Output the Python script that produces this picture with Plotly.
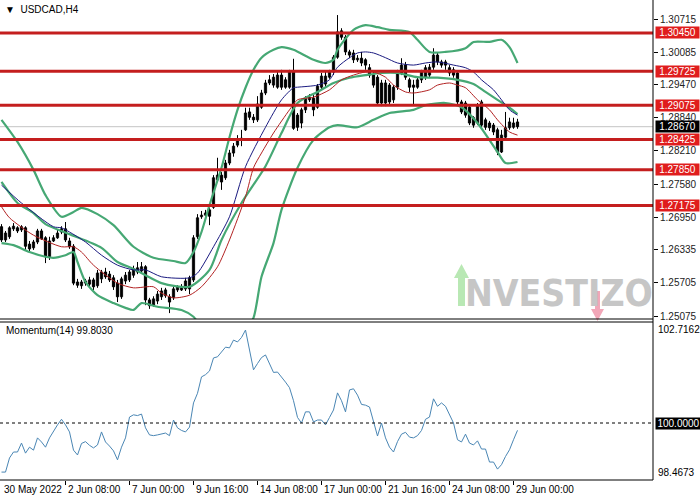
import plotly.graph_objects as go

# ---------------- data ----------------
bar_index = list(range(130))
open_ = [1.2677,1.2652,1.2658,1.2673,1.2675,1.2671,1.2675,1.2644,1.2637,1.2648,
         1.2669,1.2656,1.2620,1.2650,1.2656,1.2667,1.2673,1.2650,1.2640,1.2572,
         1.2565,1.2574,1.2568,1.2576,1.2565,1.2578,1.2591,1.2587,1.2580,1.2570,
         1.2544,1.2574,1.2576,1.2585,1.2591,1.2593,1.2601,1.2538,1.2528,1.2536,
         1.2544,1.2546,1.2544,1.2542,1.2557,1.2557,1.2559,1.2559,1.2576,1.2658,
         1.2696,1.2699,1.2709,1.2714,1.2766,1.2775,1.2770,1.2798,1.2817,1.2832,
         1.2842,1.2861,1.2895,1.2885,1.2880,1.2904,1.2931,1.2956,1.2946,1.2942,
         1.2965,1.2956,1.2942,1.2971,1.2889,1.2874,1.2899,1.2918,1.2921,1.2904,
         1.2942,1.2948,1.2961,1.2971,1.2999,1.3049,1.3037,1.3009,1.3007,1.2994,
         1.2997,1.2994,1.2979,1.2965,1.2961,1.2950,1.2912,1.2946,1.2918,1.2942,
         1.2969,1.2984,1.2956,1.2946,1.2942,1.2956,1.2961,1.2965,1.2980,1.3003,
         1.2990,1.2990,1.2979,1.2975,1.2969,1.2914,1.2912,1.2904,1.2884,1.2874,
         1.2914,1.2880,1.2874,1.2870,1.2861,1.2819,1.2847,1.2865,1.2866,1.2876]
close = [1.2652,1.2665,1.2675,1.2678,1.2669,1.2677,1.2640,1.2635,1.2648,1.2669,
         1.2654,1.2620,1.2650,1.2656,1.2665,1.2673,1.2652,1.2639,1.2570,1.2566,
         1.2572,1.2570,1.2576,1.2563,1.2589,1.2591,1.2582,1.2576,1.2563,1.2544,
         1.2578,1.2585,1.2591,1.2597,1.2599,1.2601,1.2538,1.2527,1.2540,1.2549,
         1.2555,1.2557,1.2534,1.2559,1.2563,1.2563,1.2574,1.2580,1.2656,1.2694,
         1.2699,1.2703,1.2697,1.2770,1.2775,1.2762,1.2798,1.2817,1.2830,1.2844,
         1.2845,1.2893,1.2885,1.2880,1.2910,1.2931,1.2950,1.2950,1.2961,1.2965,
         1.2942,1.2942,1.2971,1.2864,1.2866,1.2899,1.2921,1.2923,1.2899,1.2944,
         1.2963,1.2963,1.2971,1.2999,1.3047,1.3037,1.3009,1.3003,1.2994,1.2997,
         1.2988,1.2984,1.2965,1.2946,1.2912,1.2912,1.2950,1.2914,1.2942,1.2969,
         1.2984,1.2961,1.2942,1.2942,1.2956,1.2971,1.2979,1.2980,1.3003,1.2990,
         1.2984,1.2984,1.2969,1.2965,1.2914,1.2895,1.2889,1.2874,1.2870,1.2908,
         1.2870,1.2866,1.2865,1.2857,1.2819,1.2851,1.2865,1.2876,1.2874,1.2867]
high = [1.2682,1.2669,1.2678,1.2684,1.2678,1.2680,1.2678,1.2650,1.2652,1.2673,
        1.2673,1.2659,1.2658,1.2661,1.2671,1.2678,1.2686,1.2656,1.2644,1.2578,
        1.2576,1.2578,1.2582,1.2580,1.2595,1.2595,1.2599,1.2593,1.2585,1.2576,
        1.2582,1.2591,1.2595,1.2603,1.2610,1.2610,1.2604,1.2542,1.2545,1.2555,
        1.2561,1.2561,1.2549,1.2563,1.2566,1.2568,1.2580,1.2584,1.2661,1.2701,
        1.2707,1.2709,1.2713,1.2775,1.2808,1.2781,1.2804,1.2823,1.2836,1.2851,
        1.2861,1.2903,1.2903,1.2891,1.2925,1.2937,1.2956,1.2965,1.2967,1.2971,
        1.2975,1.2961,1.2975,1.2996,1.2893,1.2903,1.2925,1.2929,1.2927,1.2948,
        1.2969,1.2971,1.2975,1.3003,1.3079,1.3054,1.3041,1.3013,1.3013,1.3003,
        1.3009,1.2997,1.2986,1.2971,1.2965,1.2956,1.2956,1.2950,1.2946,1.2975,
        1.2997,1.2990,1.2960,1.2956,1.2963,1.2975,1.2984,1.2986,1.3016,1.3007,
        1.2994,1.2994,1.2984,1.2980,1.2973,1.2918,1.2916,1.2910,1.2887,1.2912,
        1.2918,1.2884,1.2878,1.2874,1.2865,1.2861,1.2895,1.2884,1.2884,1.2882]
low = [1.2648,1.2648,1.2654,1.2669,1.2665,1.2667,1.2631,1.2631,1.2633,1.2644,
       1.2652,1.2608,1.2614,1.2648,1.2654,1.2663,1.2648,1.2635,1.2566,1.2561,
       1.2559,1.2565,1.2561,1.2557,1.2561,1.2570,1.2578,1.2572,1.2557,1.2534,
       1.2540,1.2568,1.2572,1.2580,1.2587,1.2589,1.2528,1.2521,1.2525,1.2530,
       1.2538,1.2542,1.2513,1.2538,1.2553,1.2555,1.2555,1.2549,1.2572,1.2654,
       1.2692,1.2696,1.2680,1.2711,1.2762,1.2747,1.2766,1.2794,1.2810,1.2828,
       1.2830,1.2859,1.2880,1.2874,1.2876,1.2901,1.2927,1.2946,1.2941,1.2939,
       1.2937,1.2939,1.2939,1.2861,1.2859,1.2864,1.2893,1.2914,1.2887,1.2901,
       1.2937,1.2942,1.2958,1.2965,1.2996,1.3032,1.3003,1.2997,1.2988,1.2990,
       1.2982,1.2975,1.2960,1.2941,1.2908,1.2906,1.2906,1.2910,1.2912,1.2937,
       1.2965,1.2956,1.2933,1.2908,1.2939,1.2950,1.2956,1.2960,1.2975,1.2984,
       1.2979,1.2975,1.2963,1.2960,1.2910,1.2891,1.2884,1.2870,1.2865,1.2870,
       1.2865,1.2861,1.2859,1.2851,1.2813,1.2817,1.2844,1.2861,1.2863,1.2863]

bb_upper_idx = [0,4,8,11,15,18,20,24,28,33,38,43,46,48,50,52,55,57,59,61,63,65,68,70,73,78,81,83,84,88,91,94,97,102,104,107,111,116,118,122,125,127,129]
bb_upper = [1.2880,1.2838,1.2785,1.2737,1.2696,1.2705,1.2713,1.2701,1.2680,1.2639,
            1.2618,1.2612,1.2608,1.2629,1.2667,1.2718,1.2789,1.2847,1.2899,1.2941,
            1.2975,1.2998,1.3013,1.3018,1.3013,1.2994,1.2988,1.2994,1.3013,1.3051,
            1.3060,1.3056,1.3051,1.3047,1.3032,1.3009,1.3009,1.3016,1.3028,1.3028,
            1.3032,1.3018,1.2988]
bb_mid_idx = [0,4,8,11,17,25,29,33,36,40,47,52,55,60,66,70,74,79,83,87,91,95,99,104,109,114,118,121,124,127,129]
bb_mid = [1.2762,1.2722,1.2703,1.2682,1.2663,1.2637,1.2610,1.2597,1.2585,1.2570,
          1.2563,1.2595,1.2652,1.2722,1.2792,1.2855,1.2912,1.2933,1.2950,1.2960,
          1.2965,1.2969,1.2969,1.2961,1.2960,1.2956,1.2948,1.2933,1.2918,1.2903,1.2891]
bb_lower_idx = [0,3,7,11,13,16,18,19,21,24,28,31,33,35,39,45,48,51,55,59,61,63,65,68,70,74,78,82,84,89,93,97,103,106,111,115,119,124,126,129]
bb_lower = [1.2646,1.2642,1.2629,1.2620,1.2618,1.2623,1.2629,1.2610,1.2572,1.2547,
            1.2532,1.2523,1.2519,1.2532,1.2525,1.2519,1.2506,1.2475,1.2452,1.2462,
            1.2481,1.2504,1.2582,1.2646,1.2709,1.2789,1.2842,1.2866,1.2870,1.2866,
            1.2880,1.2893,1.2899,1.2908,1.2912,1.2904,1.2874,1.2819,1.2798,1.2800]
ma_blue_idx = [0,5,13,15,17,21,25,29,33,36,40,47,49,53,57,61,66,70,73,74,79,82,84,87,89,91,93,96,99,103,106,109,113,116,118,120,123,125,127,129]
ma_blue = [1.2756,1.2722,1.2677,1.2675,1.2667,1.2648,1.2623,1.2604,1.2595,1.2595,
           1.2582,1.2580,1.2589,1.2639,1.2696,1.2791,1.2866,1.2918,1.2941,1.2942,
           1.2946,1.2956,1.2980,1.2998,1.3007,1.3009,1.3007,1.2998,1.2988,1.2984,
           1.2988,1.2990,1.2984,1.2979,1.2971,1.2956,1.2937,1.2918,1.2899,1.2889]
ma_red_idx = [0,2,8,15,18,20,23,29,33,38,40,43,47,50,54,57,61,63,65,68,72,74,78,82,85,88,91,93,96,98,101,103,107,109,112,114,116,119,122,124,127,129]
ma_red = [1.2715,1.2694,1.2661,1.2639,1.2639,1.2629,1.2604,1.2570,1.2561,1.2563,
          1.2551,1.2542,1.2547,1.2563,1.2601,1.2652,1.2734,1.2789,1.2817,1.2855,
          1.2899,1.2918,1.2923,1.2937,1.2956,1.2965,1.2971,1.2971,1.2961,1.2946,
          1.2933,1.2931,1.2937,1.2946,1.2950,1.2946,1.2941,1.2918,1.2899,1.2880,
          1.2857,1.2851]

momentum = [98.68,98.68,99.06,99.22,99.22,99.46,99.19,99.35,99.27,99.60,
            99.49,99.35,99.60,99.78,99.95,100.10,99.95,99.76,99.27,99.14,
            99.45,99.50,99.40,99.33,99.41,99.76,99.49,99.38,99.25,99.01,
            99.35,99.60,100.16,100.22,100.20,100.24,99.87,99.68,99.66,99.68,
            99.70,99.73,99.66,100.08,99.87,99.80,99.76,99.89,100.54,100.80,
            101.24,101.30,101.40,101.75,101.78,101.90,102.04,102.02,102.23,102.18,
            102.30,102.50,101.95,101.43,101.60,101.76,101.83,101.60,101.36,101.37,
            101.25,101.10,100.95,100.60,100.15,100.00,100.30,100.30,100.03,100.08,
            100.08,99.95,100.15,100.35,100.81,100.60,100.30,100.89,100.92,100.75,
            100.50,100.48,100.43,100.03,99.65,100.00,99.60,99.35,99.22,99.50,
            99.70,99.75,99.62,99.60,99.66,99.80,100.10,100.16,100.65,100.45,
            100.54,100.45,100.22,100.00,99.55,99.49,99.70,99.46,99.41,99.52,
            99.30,99.30,98.95,98.95,98.76,98.88,99.10,99.28,99.55,99.803]

levels = [1.30450, 1.29725, 1.29075, 1.28425, 1.27850, 1.27175]
price_ticks = [1.30715, 1.30085, 1.29470, 1.28840, 1.28210, 1.27580, 1.26950, 1.26335, 1.25705, 1.25075]
current_price = 1.28670
mom_top, mom_ref, mom_bottom = 102.7162, 100.0, 98.4673
x_tick_bars = [0, 16, 32, 48, 64, 80, 96, 112, 128]
x_tick_labels = ["30 May 2022", "2 Jun 08:00", "7 Jun 00:00", "9 Jun 16:00", "14 Jun 08:00",
                 "17 Jun 00:00", "21 Jun 16:00", "24 Jun 08:00", "29 Jun 00:00"]
symbol_label = "USDCAD,H4"
momentum_label = "Momentum(14) 99.8030"

# ---------------- figure ----------------
W, H = 700, 500
ML, MR, MT, MB = 0, 47, 0, 20
PW, PH = W - ML - MR, H - MT - MB
def px(xp):  # paper x from pixel
    return (xp - ML) / PW
def py(yp):  # paper y from pixel
    return (H - MB - yp) / PH

FONT = "Liberation Sans, Arial, sans-serif"
fig = go.Figure()

# wicks
wx, wy = [], []
for i, h, l in zip(bar_index, high, low):
    wx += [i, i, None]
    wy += [l, h, None]
fig.add_trace(go.Scatter(x=wx, y=wy, mode="lines", line=dict(color="black", width=1),
                         hoverinfo="skip", xaxis="x", yaxis="y"))
# bodies
base = [min(o, c) for o, c in zip(open_, close)]
height = [abs(c - o) for o, c in zip(open_, close)]
colors = ["white" if c >= o else "black" for o, c in zip(open_, close)]
fig.add_trace(go.Bar(x=bar_index, y=height, base=base, width=0.55,
                     marker=dict(color=colors, line=dict(color="black", width=1)),
                     hoverinfo="skip", xaxis="x", yaxis="y"))

green = "#46a874"
for xi, yi in [(bb_upper_idx, bb_upper), (bb_mid_idx, bb_mid), (bb_lower_idx, bb_lower)]:
    fig.add_trace(go.Scatter(x=xi, y=yi, mode="lines",
                             line=dict(color=green, width=2.2, shape="spline", smoothing=0.7),
                             hoverinfo="skip", xaxis="x", yaxis="y"))
fig.add_trace(go.Scatter(x=ma_blue_idx, y=ma_blue, mode="lines",
                         line=dict(color="#1a1a80", width=1, shape="spline", smoothing=0.7),
                         hoverinfo="skip", xaxis="x", yaxis="y"))
fig.add_trace(go.Scatter(x=ma_red_idx, y=ma_red, mode="lines",
                         line=dict(color="#b22222", width=1, shape="spline", smoothing=0.7),
                         hoverinfo="skip", xaxis="x", yaxis="y"))

fig.add_trace(go.Scatter(x=bar_index, y=momentum, mode="lines",
                         line=dict(color="#4a86b4", width=1),
                         hoverinfo="skip", xaxis="x2", yaxis="y2"))

shapes = []
shapes.append(dict(type="line", xref="paper", yref="y", x0=0, x1=1, y0=current_price, y1=current_price,
                   line=dict(color="#c4c4c4", width=1), layer="below"))
for lv in levels:
    shapes.append(dict(type="line", xref="paper", yref="y", x0=0, x1=1, y0=lv, y1=lv,
                       line=dict(color="#c41e1e", width=3), layer="above"))
shapes.append(dict(type="line", xref="paper", yref="y2", x0=0, x1=1, y0=mom_ref, y1=mom_ref,
                   line=dict(color="black", width=1, dash="3px,3px")))
shapes.append(dict(type="line", xref="paper", yref="paper", x0=0, x1=1, y0=py(319), y1=py(319),
                   line=dict(color="black", width=1)))
shapes.append(dict(type="line", xref="paper", yref="paper", x0=0, x1=1, y0=py(322), y1=py(322),
                   line=dict(color="black", width=1)))
shapes.append(dict(type="line", xref="paper", yref="paper", x0=0, x1=1, y0=py(480), y1=py(480),
                   line=dict(color="black", width=1)))
shapes.append(dict(type="line", xref="paper", yref="paper", x0=1, x1=1, y0=py(480), y1=1,
                   line=dict(color="black", width=1)))
def path(points):
    return "M " + " L ".join(f"{px(a):.5f},{py(b):.5f}" for a, b in points) + " Z"
shapes.append(dict(type="path", xref="paper", yref="paper",
                   path=path([(458, 306), (465, 306), (465, 278), (469, 278), (461.5, 264), (454, 278), (458, 278)]),
                   fillcolor="#b9e8b4", line=dict(width=0), layer="below"))
shapes.append(dict(type="path", xref="paper", yref="paper",
                   path=path([(595, 291), (600, 291), (600, 309), (604, 309), (597.5, 321), (591, 309), (595, 309)]),
                   fillcolor="#f2a7b8", line=dict(width=0), layer="below"))

annotations = []
annotations.append(dict(text="<b>NVESTIZO</b>", x=px(559), y=py(293), xref="paper", yref="paper",
                        showarrow=False, font=dict(family="Liberation Sans Narrow, DejaVu Sans Condensed, Arial", size=37,
                                                   color="#c6c6c6"), xanchor="center", yanchor="middle"))
annotations.append(dict(text="▼  " + symbol_label, x=px(3), y=py(9), xref="paper", yref="paper",
                        showarrow=False, xanchor="left", yanchor="middle",
                        font=dict(family=FONT, size=10, color="black")))
annotations.append(dict(text=momentum_label, x=px(4), y=py(330), xref="paper", yref="paper",
                        showarrow=False, xanchor="left", yanchor="middle",
                        font=dict(family=FONT, size=10, color="black")))
for lv in levels:
    annotations.append(dict(text=f"{lv:.5f}", x=px(655), y=lv, xref="paper", yref="y",
                            showarrow=False, xanchor="left", yanchor="middle", width=43, height=11,
                            bgcolor="#e01d1d", borderpad=0, align="center",
                            font=dict(family=FONT, size=10, color="white")))
annotations.append(dict(text=f"{current_price:.5f}", x=px(655), y=current_price, xref="paper", yref="y",
                        showarrow=False, xanchor="left", yanchor="middle", width=43, height=11,
                        bgcolor="black", borderpad=0, align="center",
                        font=dict(family=FONT, size=10, color="white")))
annotations.append(dict(text=f"{mom_top:.4f}", x=px(656), y=mom_top, xref="paper", yref="y2",
                        showarrow=False, xanchor="left", yanchor="top",
                        font=dict(family=FONT, size=10, color="black")))
annotations.append(dict(text=f"{mom_bottom:.4f}", x=px(656), y=mom_bottom, xref="paper", yref="y2",
                        showarrow=False, xanchor="left", yanchor="bottom",
                        font=dict(family=FONT, size=10, color="black")))
annotations.append(dict(text=f"{mom_ref:.4f}", x=px(655), y=mom_ref, xref="paper", yref="y2",
                        showarrow=False, xanchor="left", yanchor="middle", width=45, height=11,
                        bgcolor="black", borderpad=0, align="center",
                        font=dict(family=FONT, size=10, color="white")))
for b, t in zip(x_tick_bars, x_tick_labels):
    annotations.append(dict(text=t, x=b, y=py(490), xref="x2", yref="paper",
                            showarrow=False, xanchor="left", yanchor="middle",
                            font=dict(family=FONT, size=10, color="black")))

xrange = [-0.375, 162.875]
fig.update_layout(
    width=W, height=H, margin=dict(l=ML, r=MR, t=MT, b=MB, autoexpand=False),
    paper_bgcolor="white", plot_bgcolor="white", showlegend=False,
    barmode="overlay", hovermode=False,
    shapes=shapes, annotations=annotations,
    xaxis=dict(domain=[0, 1], range=xrange, anchor="y", showticklabels=False, showgrid=False,
               zeroline=False, ticks=""),
    xaxis2=dict(domain=[0, 1], range=xrange, anchor="y2", matches="x", showgrid=False, zeroline=False,
                tickvals=x_tick_bars[1:], ticktext=[""] * (len(x_tick_bars) - 1),
                ticks="outside", ticklen=4, tickcolor="black"),
    yaxis=dict(domain=[py(319), 1], range=[1.25018, 1.31076], side="right", anchor="x",
               showgrid=False, zeroline=False, tickvals=price_ticks,
               ticktext=[f"{t:.5f}" for t in price_ticks], ticks="outside", ticklen=4,
               tickcolor="black", tickfont=dict(family=FONT, size=10, color="#222222")),
    yaxis2=dict(domain=[0, py(322)], range=[mom_bottom, mom_top], side="right", anchor="x2",
                showgrid=False, zeroline=False, showticklabels=False, ticks=""),
)

fig.write_html("out.html", config={"displayModeBar": False},
               post_script="document.body.style.margin='0';document.body.style.overflow='hidden';")
